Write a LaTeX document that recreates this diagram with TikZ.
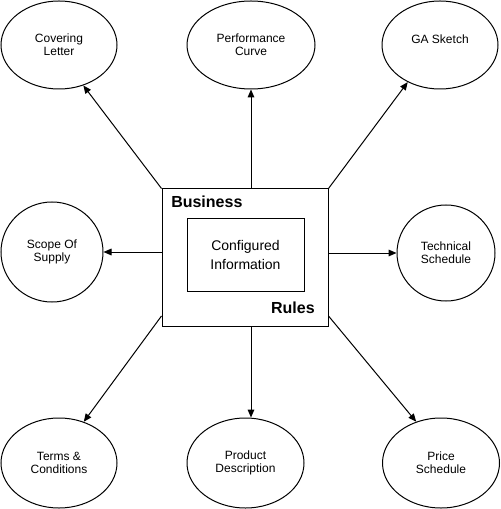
\documentclass[tikz,border=0pt]{standalone}
\usepackage{fontspec}
\setmainfont{Liberation Sans}
\usetikzlibrary{shapes.geometric,arrows.meta}
\begin{document}
\begin{tikzpicture}[x=0.75pt,y=-0.75pt,
  ell/.style={draw, ellipse, line width=0.75pt, inner sep=0pt, align=center,
    font=\fontsize{9}{9.5}\selectfont},
  arr/.style={line width=0.75pt, -{Triangle[length=6pt,width=5pt]}},
  boxst/.style={draw, rectangle, line width=0.75pt, inner sep=0pt},
  big/.style={inner sep=0pt, font=\fontsize{12}{14}\selectfont\bfseries},
]
\fill[white] (0,0) rectangle (500,509);
\useasboundingbox (0,0) rectangle (500,509);

% ellipses
\node[ell, minimum width=87pt, minimum height=66pt] (cl) at (59,45) {Covering\\Letter};
\node[ell, minimum width=96pt, minimum height=66pt] (pc) at (251,45) {Performance\\Curve};
\node[ell, minimum width=87pt, minimum height=66pt] (ga) at (440,45) {GA Sketch\\\mbox{}};
\node[ell, minimum width=76.5pt, minimum height=75pt] (ss) at (52,252) {Scope Of\\Supply};
\node[ell, minimum width=73.5pt, minimum height=72pt] (ts) at (446,253) {Technical\\Schedule};
\node[ell, minimum width=87pt, minimum height=67.5pt] (tc) at (59,463) {Terms \&\\Conditions};
\node[ell, minimum width=87.75pt, minimum height=67.5pt] (pd) at (245.5,463) {Product\\Description};
\node[ell, minimum width=87.75pt, minimum height=67.5pt] (ps) at (441,463) {Price\\Schedule};

% central boxes
\node[boxst, minimum width=124.5pt, minimum height=102.75pt] (br) at (245,257.5) {};
\node[boxst, minimum width=87.75pt, minimum height=54pt, align=center,
  font=\fontsize{10.5}{14.25}\selectfont] (ci) at (245.5,255) {Configured\\Information};
\node[big, anchor=base west] (bus) at (171,208) {Business};
\node[big, anchor=base east] (rul) at (315,313) {Rules};

% connectors
\draw[arr] (br.north west) -- (cl.-59);
\draw[arr] (br.north -| pc.south) -- (pc.south);
\draw[arr] (br.north east) -- (ga.-131);
\draw[arr] (br.west |- ss.east) -- (ss.east);
\draw[arr] (br.east |- ts.west) -- (ts.west);
\draw[arr] (br.215) -- (tc.59);
\draw[arr] (br.south -| pc.south) -- (pc.south |- pd.north);
\draw[arr] (br.-35) -- (ps.121);
\end{tikzpicture}
\end{document}
